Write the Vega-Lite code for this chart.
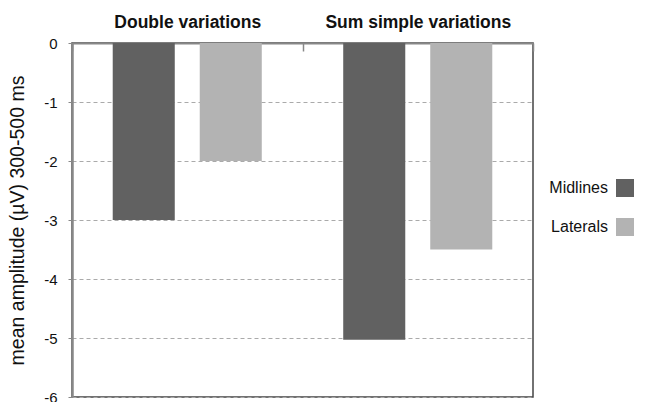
{
  "$schema": "https://vega.github.io/schema/vega-lite/v6.json",
  "autosize": "none",
  "width": 461,
  "height": 354,
  "padding": {"left": 72, "top": 43, "right": 112, "bottom": 5},
  "background": "white",
  "config": {
    "font": "Liberation Sans",
    "view": {"stroke": "#444", "strokeWidth": 1.5}
  },
  "data": {
    "values": [
      {"condition": "Double variations", "region": "Midlines", "amplitude": -3.0},
      {"condition": "Double variations", "region": "Laterals", "amplitude": -2.0},
      {"condition": "Sum simple variations", "region": "Midlines", "amplitude": -5.03},
      {"condition": "Sum simple variations", "region": "Laterals", "amplitude": -3.5}
    ]
  },
  "mark": {"type": "bar"},
  "encoding": {
    "x": {
      "field": "condition",
      "type": "nominal",
      "sort": ["Double variations", "Sum simple variations"],
      "scale": {"paddingInner": 0, "paddingOuter": 0},
      "axis": {
        "orient": "top",
        "title": null,
        "labelAngle": 0,
        "labelFontWeight": "bold",
        "labelFontSize": 17.5,
        "labelColor": "#111",
        "labelPadding": 20,
        "labelLimit": 0,
        "tickBand": "extent",
        "tickSize": -8,
        "tickColor": "#888",
        "tickWidth": 1.5,
        "domainColor": "#888",
        "domainWidth": 2
      }
    },
    "xOffset": {
      "field": "region",
      "type": "nominal",
      "sort": ["Midlines", "Laterals"],
      "scale": {"paddingInner": 0.287, "paddingOuter": 0.468}
    },
    "y": {
      "field": "amplitude",
      "type": "quantitative",
      "scale": {"domain": [-6, 0], "nice": false},
      "axis": {
        "title": "mean amplitude (µV) 300-500 ms",
        "titleFontSize": 19.5,
        "titleFontWeight": "normal",
        "titleColor": "#111",
        "titlePadding": 16,
        "values": [0, -1, -2, -3, -4, -5, -6],
        "labelExpr": "'' + datum.value",
        "labelFontSize": 15,
        "labelColor": "#111",
        "labelPadding": 11,
        "tickSize": 4,
        "tickColor": "#888",
        "domainColor": "#888",
        "domainWidth": 2.5,
        "gridColor": "#aaa",
        "gridDash": [4, 3],
        "gridWidth": 1
      }
    },
    "color": {
      "field": "region",
      "type": "nominal",
      "sort": ["Midlines", "Laterals"],
      "scale": {"domain": ["Midlines", "Laterals"], "range": ["#616161", "#b3b3b3"]},
      "legend": {
        "title": null,
        "orient": "none",
        "legendX": 544,
        "legendY": 136,
        "symbolType": "square",
        "symbolSize": 324,
        "symbolStrokeWidth": 0,
        "symbolOpacity": 1,
        "labelFontSize": 16,
        "labelColor": "#111",
        "labelAlign": "right",
        "labelOffset": -26,
        "rowPadding": 21
      }
    }
  }
}
